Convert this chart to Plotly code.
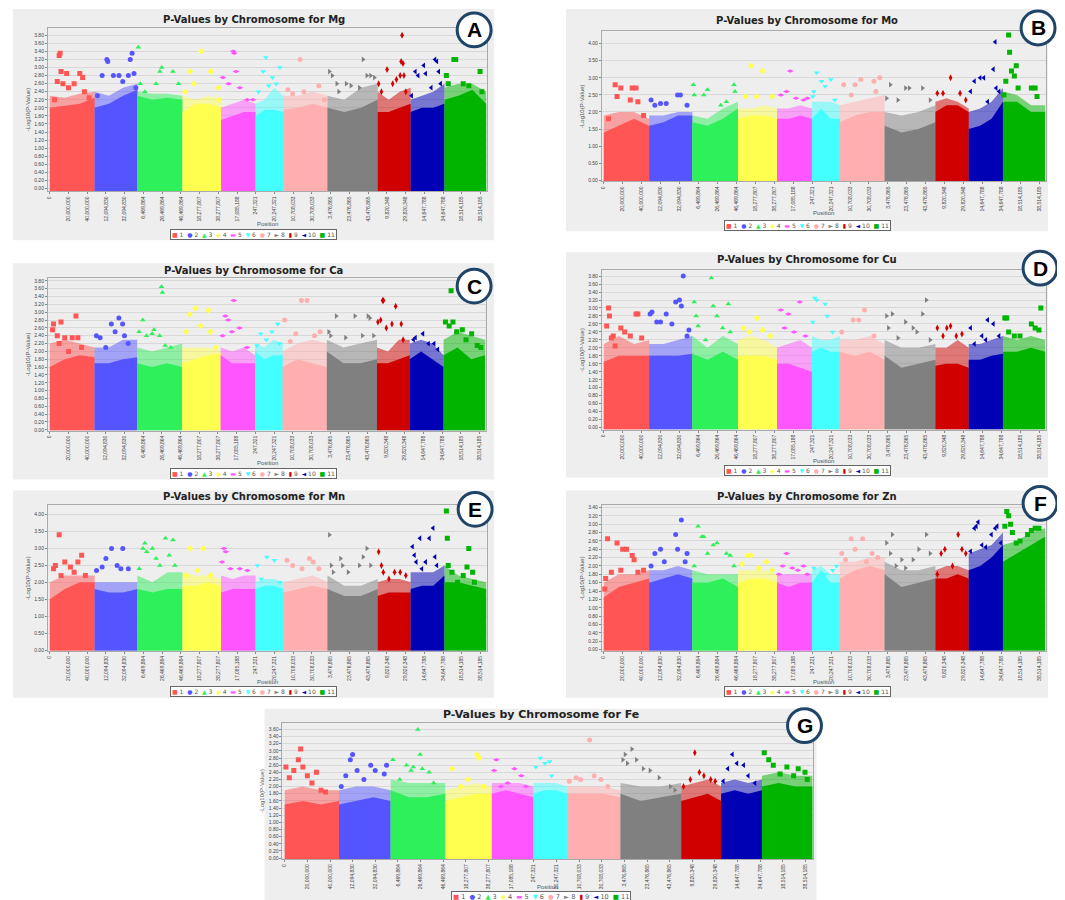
import plotly.graph_objects as go

W, H = 1065, 900

CHROMS = ["1", "2", "3", "4", "5", "6", "7", "8", "9", "10", "11"]
CHROM_LEN = [47905170, 45624966, 48192057, 41192619, 36837867, 29539288,
             47231168, 53656517, 35172560, 36133603, 44500000]
TICK_LABELS = ["0", "20,000,000", "40,000,000", "12,094,830", "32,094,830",
               "6,469,864", "26,469,864", "46,469,864", "18,277,807", "38,277,807",
               "17,085,188", "247,321", "20,247,321", "10,708,033", "30,708,033",
               "3,476,865", "23,476,865", "43,476,865", "9,820,348", "29,820,348",
               "14,647,788", "34,647,788", "18,514,185", "38,514,185"]
ELEMENTS = ["Mg", "Mo", "Ca", "Cu", "Mn", "Zn", "Fe"]
LETTERS = ["A", "B", "C", "D", "E", "F", "G"]

# solid block top (-log10 p) at evenly spaced spots along each chromosome
MG_BLOCK = [[2.0, 2.05, 2.1, 2.25], [2.0, 2.1, 2.3, 2.45], [2.3, 2.2, 2.25, 2.2], [1.9, 2.1, 2.1, 2.0],
            [1.7, 1.8, 1.9, 1.9], [1.8, 1.95, 1.95, 1.9], [1.95, 2.0, 2.1, 2.0], [2.0, 1.9, 2.0, 2.2],
            [1.9, 1.9, 2.0, 2.1], [1.9, 2.0, 2.0, 2.1], [2.2, 2.3, 2.45, 2.1]]
# top of the looser spray of points above the block
MG_SPRAY = [[2.3, 2.25, 2.35, 2.4], [2.4, 2.3, 2.5, 2.6], [2.4, 2.35, 2.35, 2.3], [2.3, 2.2, 2.3, 2.2],
            [2.0, 2.1, 2.2, 2.1], [2.1, 2.2, 2.5, 2.3], [2.3, 2.3, 2.4, 2.3], [2.3, 2.2, 2.5, 2.6],
            [2.4, 2.2, 2.4, 2.5], [2.2, 2.3, 2.4, 2.6], [2.5, 2.6, 2.6, 2.4]]
# scattered hits: (position in Mb within chromosome, -log10 p)
MG_PEAKS = [
    [(5, 2.2), (8, 2.65), (10, 3.3), (11, 3.35), (12, 2.9), (14, 2.6), (18, 2.85), (20, 2.5), (26, 2.6), (32, 2.85), (35, 2.75), (37, 2.4), (42, 2.25)],
    [(3, 2.3), (8, 2.8), (13, 3.2), (14, 3.15), (20, 2.8), (26, 2.8), (30, 2.65), (36, 2.8), (38, 3.2), (40, 3.35), (42, 2.85), (44, 2.5)],
    [(1, 3.5), (3, 2.6), (8, 2.4), (20, 2.6), (24, 2.9), (26, 3.0), (38, 2.9), (44, 2.6)],
    [(3, 2.4), (8, 2.9), (12, 2.6), (20, 3.4), (30, 2.9), (38, 2.5), (39, 2.2)],
    [(2, 2.75), (8, 2.6), (13, 3.4), (14, 3.35), (16, 2.9), (20, 2.5), (28, 2.2), (34, 2.2)],
    [(3, 2.4), (8, 2.9), (11, 3.25), (14, 2.55), (18, 2.75), (22, 2.6), (26, 3.0)],
    [(5, 2.45), (10, 2.35), (18, 3.2), (22, 2.4), (38, 2.55), (44, 2.2)],
    [(2, 2.9), (5, 2.8), (10, 2.6), (12, 2.4), (20, 2.6), (25, 2.55), (34, 2.5), (38, 3.2), (42, 2.8), (46, 2.8), (50, 2.75)],
    [(1, 2.6), (4, 2.4), (10, 2.95), (16, 2.6), (20, 2.7), (24, 2.8), (25, 3.15), (26, 3.8), (27, 3.1), (28, 2.8), (30, 2.4)],
    [(1, 2.3), (5, 2.9), (8, 2.8), (14, 3.05), (16, 2.85), (22, 2.5), (26, 3.2), (28, 3.15), (30, 2.9), (32, 2.6)],
    [(2, 2.8), (4, 2.6), (10, 3.2), (12, 3.2), (20, 2.6), (26, 2.55), (38, 2.9), (40, 2.4)],
]

MO_BLOCK = [[1.4, 1.6, 1.8, 1.6], [1.6, 1.7, 1.9, 1.9], [1.7, 1.6, 1.8, 2.1], [1.8, 1.9, 1.9, 1.8],
            [1.8, 1.8, 1.9, 1.8], [1.8, 2.1, 1.8, 1.8], [1.7, 1.9, 2.0, 2.0], [1.6, 1.4, 1.5, 1.7],
            [2.0, 2.2, 2.2, 2.0], [1.5, 1.6, 1.8, 2.3], [2.3, 2.3, 2.0, 2.0]]
MO_SPRAY = [[1.9, 2.0, 2.0, 1.8], [1.9, 1.9, 2.0, 2.0], [1.9, 1.8, 2.1, 2.3], [2.1, 2.1, 2.2, 2.1],
            [2.1, 2.1, 2.2, 2.1], [2.3, 2.3, 2.3, 2.2], [2.2, 2.3, 2.4, 2.5], [2.0, 1.9, 2.0, 2.2],
            [2.3, 2.4, 2.3, 2.1], [2.0, 2.1, 2.3, 2.7], [2.6, 2.5, 2.2, 2.2]]
MO_PEAKS = [
    [(5, 1.8), (12, 2.8), (14, 2.45), (18, 2.7), (28, 2.35), (30, 2.7), (34, 2.7), (36, 2.3), (42, 1.9)],
    [(2, 2.35), (6, 2.2), (12, 2.25), (18, 2.25), (30, 2.5), (33, 2.5), (40, 2.2)],
    [(1, 2.8), (2, 2.5), (12, 2.5), (16, 2.65), (30, 2.2), (36, 2.3), (44, 2.8), (45, 2.6)],
    [(8, 2.45), (14, 3.35), (20, 2.45), (26, 3.2), (36, 2.45)],
    [(4, 2.5), (10, 2.6), (14, 3.2), (20, 2.4), (28, 2.35), (32, 2.4)],
    [(1, 2.45), (2, 2.6), (5, 3.15), (10, 2.9), (14, 2.75), (20, 2.95), (24, 2.35)],
    [(4, 2.8), (12, 2.5), (16, 2.8), (22, 2.95), (36, 2.9), (38, 2.6), (42, 3.0)],
    [(2, 2.4), (6, 2.8), (14, 2.35), (22, 2.7), (26, 2.7), (40, 2.7), (48, 2.35)],
    [(2, 2.55), (8, 2.55), (16, 3.0), (26, 2.55), (32, 2.35)],
    [(2, 2.6), (6, 2.9), (12, 3.0), (16, 3.0), (20, 2.3), (26, 3.25), (28, 4.05), (29, 2.7), (32, 2.6)],
    [(1, 2.5), (3, 2.9), (6, 4.25), (7, 3.75), (9, 3.2), (12, 3.05), (14, 3.35), (16, 2.7), (30, 2.7), (34, 2.7), (36, 2.45)],
]

CA_BLOCK = [[1.6, 1.8, 1.9, 1.85], [1.7, 1.7, 1.8, 1.85], [1.7, 1.6, 1.7, 1.6], [1.7, 1.8, 1.9, 1.95],
            [1.9, 1.7, 1.7, 1.7], [2.0, 1.8, 1.9, 1.9], [1.6, 1.8, 1.7, 1.6], [2.0, 1.7, 1.7, 1.8],
            [1.7, 1.7, 1.8, 1.9], [1.8, 2.0, 1.8, 1.6], [1.9, 2.1, 1.8, 1.9]]
CA_SPRAY = [[2.2, 2.3, 2.2, 2.1], [2.1, 2.1, 2.3, 2.3], [2.1, 2.0, 2.1, 2.2], [2.1, 2.1, 2.1, 2.0],
            [2.1, 2.0, 2.1, 1.9], [2.2, 2.1, 2.3, 2.2], [2.0, 2.2, 2.3, 2.2], [2.3, 2.1, 2.2, 2.3],
            [2.1, 2.0, 2.3, 2.3], [2.2, 2.3, 2.2, 1.9], [2.3, 2.5, 2.4, 2.3]]
CA_PEAKS = [
    [(3, 2.55), (4, 2.7), (8, 2.4), (10, 2.2), (12, 2.75), (16, 2.35), (20, 2.0), (24, 2.35), (28, 2.9), (30, 2.35), (34, 2.1)],
    [(2, 2.4), (6, 2.35), (12, 2.1), (18, 2.7), (22, 2.5), (26, 2.85), (30, 2.7), (32, 2.4), (36, 2.2)],
    [(2, 2.5), (6, 2.8), (10, 2.4), (16, 2.45), (18, 2.55), (24, 2.4), (26, 3.65), (27, 3.5), (30, 2.15), (36, 2.1)],
    [(4, 2.5), (8, 2.95), (14, 3.1), (20, 2.65), (28, 3.05), (30, 2.5), (36, 2.1)],
    [(2, 2.4), (5, 2.9), (8, 2.8), (12, 2.5), (14, 3.3), (20, 2.6), (28, 2.1)],
    [(2, 2.15), (6, 2.45), (12, 2.3), (18, 2.5), (24, 2.7), (26, 2.2)],
    [(2, 2.8), (8, 2.25), (14, 2.45), (20, 3.3), (26, 3.3), (34, 2.4), (40, 2.5)],
    [(2, 2.5), (4, 2.4), (10, 2.9), (20, 2.35), (30, 2.9), (38, 2.4), (44, 2.9), (46, 2.85), (50, 2.4)],
    [(1, 2.75), (4, 2.8), (6, 3.3), (7, 3.3), (10, 2.6), (16, 2.7), (20, 3.15), (26, 2.7), (28, 2.3)],
    [(4, 2.3), (6, 2.35), (14, 2.45), (20, 2.2), (26, 2.2), (30, 2.05)],
    [(2, 2.75), (6, 2.65), (8, 3.55), (10, 2.75), (14, 2.5), (20, 2.55), (24, 2.3), (30, 2.45), (36, 2.15), (40, 2.1)],
]

CU_BLOCK = [[1.65, 1.8, 1.8, 1.8], [1.8, 1.8, 1.8, 1.85], [1.85, 1.7, 1.9, 1.7], [1.8, 1.8, 1.8, 1.7],
            [1.6, 1.6, 1.5, 1.4], [1.9, 2.0, 1.9, 1.9], [1.9, 1.8, 1.9, 1.7], [1.8, 1.5, 1.6, 1.7],
            [1.55, 1.6, 1.6, 1.5], [1.7, 1.7, 1.8, 1.85], [1.9, 1.9, 2.0, 1.9]]
CU_SPRAY = [[2.1, 2.3, 2.1, 2.2], [2.1, 2.1, 2.2, 2.3], [2.3, 2.0, 2.3, 2.1], [2.2, 2.3, 2.2, 2.0],
            [2.0, 2.1, 2.2, 2.0], [2.3, 2.2, 2.2, 2.3], [2.2, 2.2, 2.3, 2.1], [2.2, 2.0, 2.0, 2.1],
            [2.0, 2.0, 2.2, 2.0], [2.1, 2.1, 2.2, 2.3], [2.3, 2.2, 2.3, 2.2]]
CU_PEAKS = [
    [(3, 2.55), (5, 3.0), (6, 2.8), (8, 2.25), (10, 2.3), (12, 2.05), (18, 2.5), (22, 2.4), (28, 2.3), (34, 2.85), (36, 2.85), (40, 2.25)],
    [(1, 2.85), (3, 2.9), (8, 2.65), (12, 2.65), (18, 2.85), (24, 2.6), (28, 3.15), (32, 3.2), (34, 3.05), (36, 3.8), (40, 2.3), (42, 2.45)],
    [(2, 3.15), (4, 2.8), (6, 2.55), (14, 2.2), (20, 3.75), (22, 3.05), (26, 2.8), (32, 2.5), (38, 3.1), (40, 2.4)],
    [(6, 2.5), (12, 2.4), (20, 2.75), (26, 2.45), (34, 2.3)],
    [(4, 2.95), (8, 2.5), (12, 2.85), (18, 2.4), (24, 3.15), (30, 2.3)],
    [(1, 2.65), (3, 3.25), (5, 3.2), (14, 3.1), (16, 2.8), (22, 2.4)],
    [(2, 2.4), (14, 2.7), (20, 2.7), (26, 2.95), (36, 2.3)],
    [(2, 2.8), (4, 2.5), (8, 2.85), (14, 2.25), (22, 2.65), (30, 2.5), (34, 2.4), (40, 2.85), (44, 3.2), (48, 2.2)],
    [(2, 2.5), (8, 2.3), (12, 2.5), (16, 2.55), (22, 2.3), (28, 2.35)],
    [(2, 2.5), (6, 2.1), (14, 2.3), (18, 2.2), (20, 2.7), (26, 2.6), (32, 2.3)],
    [(2, 2.75), (4, 2.75), (6, 2.4), (12, 2.3), (18, 2.3), (30, 2.6), (34, 2.5), (38, 2.45), (40, 3.0)],
]

MN_BLOCK = [[1.5, 1.8, 2.0, 2.0], [1.8, 1.7, 1.7, 1.8], [1.8, 1.7, 1.8, 1.8], [1.9, 1.9, 2.0, 1.9],
            [1.7, 1.8, 1.8, 1.8], [1.8, 1.9, 1.9, 1.8], [1.7, 1.8, 1.9, 1.8], [1.8, 1.6, 1.6, 1.8],
            [1.6, 1.7, 1.7, 1.7], [1.8, 1.9, 1.9, 2.2], [2.0, 2.0, 1.9, 1.8]]
MN_SPRAY = [[2.0, 2.2, 2.2, 2.2], [2.0, 2.0, 2.0, 2.0], [2.2, 2.0, 2.3, 2.3], [2.3, 2.2, 2.2, 2.1],
            [2.2, 2.1, 2.2, 2.2], [2.0, 2.1, 2.1, 2.0], [2.0, 2.1, 2.2, 2.0], [2.2, 1.9, 1.9, 2.1],
            [2.0, 2.1, 2.1, 2.0], [2.3, 2.3, 2.3, 2.5], [2.5, 2.2, 2.1, 2.0]]
MN_PEAKS = [
    [(4, 2.4), (6, 2.5), (10, 3.4), (12, 2.2), (16, 2.6), (22, 2.45), (26, 2.3), (30, 2.6), (34, 2.8), (38, 2.2)],
    [(2, 2.35), (8, 2.45), (12, 2.7), (18, 3.0), (24, 2.5), (28, 2.4), (30, 3.0), (36, 2.4)],
    [(2, 2.4), (6, 3.0), (8, 3.15), (10, 2.9), (16, 3.0), (20, 2.7), (24, 2.5), (30, 3.3), (34, 2.8), (38, 3.25), (40, 2.5)],
    [(4, 2.2), (8, 3.0), (16, 2.35), (22, 3.0), (30, 2.2)],
    [(1, 2.6), (3, 3.0), (5, 2.9), (10, 2.4), (20, 2.4), (28, 2.35)],
    [(2, 2.5), (6, 2.1), (12, 2.75), (20, 2.65), (26, 2.0)],
    [(4, 2.65), (10, 2.5), (20, 2.4), (28, 2.7), (32, 2.6), (38, 2.4)],
    [(2, 3.4), (4, 2.5), (6, 2.3), (14, 2.7), (16, 2.5), (22, 2.3), (34, 2.5), (38, 2.75), (42, 3.0), (46, 2.5)],
    [(1, 2.9), (4, 2.5), (6, 2.3), (12, 2.1), (18, 2.3), (24, 2.3), (30, 2.2)],
    [(2, 3.05), (4, 2.8), (6, 2.6), (10, 3.3), (12, 2.4), (16, 2.6), (20, 3.3), (24, 3.6), (26, 2.75), (28, 2.5)],
    [(2, 4.1), (3, 3.3), (4, 2.5), (8, 2.3), (14, 2.0), (20, 2.2), (24, 2.45), (26, 3.0), (30, 2.3), (32, 2.0)],
]

ZN_BLOCK = [[1.25, 1.5, 1.6, 1.7], [1.6, 1.7, 1.8, 1.7], [1.6, 1.6, 1.7, 1.5], [1.6, 1.7, 1.7, 1.6],
            [1.6, 1.5, 1.6, 1.6], [1.6, 1.9, 1.6, 1.6], [1.7, 1.9, 2.0, 1.9], [1.8, 1.5, 1.6, 1.7],
            [1.7, 1.7, 1.8, 1.7], [1.9, 2.0, 2.2, 2.5], [2.1, 2.3, 2.5, 2.7]]
ZN_SPRAY = [[1.6, 1.8, 1.8, 1.9], [1.9, 1.9, 2.0, 1.9], [1.9, 1.8, 1.8, 1.8], [1.9, 1.9, 1.9, 1.8],
            [1.8, 1.8, 1.8, 1.8], [1.9, 2.0, 1.8, 1.8], [2.1, 2.1, 2.2, 2.2], [2.1, 1.9, 1.9, 2.0],
            [1.9, 2.0, 2.0, 1.9], [2.3, 2.4, 2.5, 2.8], [2.5, 2.6, 2.8, 2.9]]
ZN_PEAKS = [
    [(1, 1.45), (2, 1.7), (4, 2.65), (8, 1.85), (14, 2.55), (18, 1.9), (20, 2.4), (24, 2.4), (30, 2.25), (32, 2.15), (36, 1.85), (42, 1.9)],
    [(2, 2.0), (6, 2.3), (12, 2.4), (16, 2.1), (28, 2.75), (30, 2.4), (34, 3.1), (38, 2.1), (40, 2.3)],
    [(2, 2.0), (6, 2.95), (10, 2.7), (12, 2.7), (16, 2.3), (22, 2.5), (26, 2.55), (36, 2.3), (40, 2.25), (44, 2.0)],
    [(4, 2.05), (10, 2.25), (14, 2.25), (22, 1.95), (30, 2.1), (36, 1.9)],
    [(2, 1.8), (6, 2.0), (10, 2.3), (16, 1.95), (22, 1.9), (28, 2.0), (32, 1.8)],
    [(2, 1.95), (8, 1.75), (14, 1.8), (22, 1.9), (26, 2.0)],
    [(2, 2.3), (6, 2.15), (12, 2.65), (16, 2.4), (24, 2.65), (28, 2.1), (34, 2.3), (40, 2.2)],
    [(2, 2.55), (6, 2.3), (8, 2.75), (12, 2.0), (18, 2.15), (22, 1.95), (30, 2.15), (36, 2.4), (44, 2.75), (48, 2.3)],
    [(2, 1.8), (6, 2.3), (10, 2.4), (18, 2.0), (24, 2.75), (28, 2.4), (32, 2.3)],
    [(2, 2.35), (6, 2.9), (8, 2.95), (10, 3.05), (14, 2.5), (18, 2.45), (24, 2.75), (28, 2.9), (30, 2.95), (34, 2.55)],
    [(2, 2.95), (4, 3.3), (6, 3.2), (8, 3.0), (10, 2.8), (14, 2.55), (18, 2.6), (26, 2.75), (30, 2.85), (34, 2.9), (38, 2.9), (40, 2.5)],
]

FE_BLOCK = [[1.5, 1.6, 1.5, 1.6], [1.5, 1.6, 1.7, 1.6], [1.9, 1.7, 1.7, 1.8], [1.6, 1.7, 1.8, 1.8],
            [1.8, 1.9, 1.8, 1.7], [1.8, 1.9, 1.9, 1.8], [1.8, 1.8, 1.8, 1.7], [1.8, 1.6, 1.7, 1.8],
            [1.6, 1.7, 1.8, 1.6], [1.8, 1.9, 1.8, 1.9], [2.0, 2.1, 2.0, 2.0]]
FE_SPRAY = [[1.9, 2.0, 1.9, 1.9], [1.9, 2.0, 2.0, 1.9], [2.2, 2.1, 2.1, 2.1], [1.9, 2.0, 2.1, 2.0],
            [2.1, 2.1, 2.1, 2.0], [2.1, 2.1, 2.1, 2.0], [2.0, 2.0, 2.0, 1.9], [2.1, 2.0, 2.0, 2.1],
            [2.0, 2.1, 2.2, 2.0], [2.1, 2.2, 2.1, 2.2], [2.3, 2.4, 2.3, 2.3]]
FE_PEAKS = [
    [(1, 2.55), (4, 2.25), (8, 2.45), (12, 2.75), (14, 3.05), (16, 2.55), (20, 2.3), (24, 2.1), (28, 2.4), (32, 1.9), (36, 1.85)],
    [(2, 2.0), (6, 2.3), (10, 2.75), (12, 2.9), (16, 2.45), (22, 2.2), (28, 2.6), (32, 2.45), (40, 2.35), (42, 2.6)],
    [(2, 2.75), (8, 2.2), (14, 2.6), (18, 2.45), (20, 2.55), (24, 3.6), (26, 2.9), (28, 2.5), (34, 2.4), (38, 2.1)],
    [(6, 2.5), (14, 2.0), (20, 2.2), (28, 2.9), (30, 2.8), (34, 2.0)],
    [(2, 2.45), (4, 2.75), (8, 2.0), (14, 2.1), (20, 2.5), (26, 2.3), (30, 2.0)],
    [(2, 2.55), (6, 2.8), (10, 2.65), (14, 2.7), (16, 2.3)],
    [(2, 2.15), (8, 2.25), (12, 2.2), (20, 3.3), (24, 2.3), (30, 2.2), (36, 2.0)],
    [(2, 2.75), (4, 2.9), (6, 2.65), (10, 3.05), (14, 2.75), (20, 2.5), (26, 2.45), (34, 2.25), (44, 2.0), (48, 1.9)],
    [(2, 2.0), (8, 2.2), (12, 2.95), (16, 2.4), (20, 2.3), (26, 2.2), (30, 2.15)],
    [(2, 2.15), (6, 2.5), (10, 2.9), (14, 2.65), (20, 2.6), (24, 2.3), (30, 2.1)],
    [(2, 2.95), (6, 2.75), (10, 2.6), (16, 2.35), (22, 2.55), (28, 2.3), (32, 2.5), (38, 2.4), (40, 2.2)],
]

BLOCKS = [MG_BLOCK, MO_BLOCK, CA_BLOCK, CU_BLOCK, MN_BLOCK, ZN_BLOCK, FE_BLOCK]
SPRAYS = [MG_SPRAY, MO_SPRAY, CA_SPRAY, CU_SPRAY, MN_SPRAY, ZN_SPRAY, FE_SPRAY]
PEAKS = [MG_PEAKS, MO_PEAKS, CA_PEAKS, CU_PEAKS, MN_PEAKS, ZN_PEAKS, FE_PEAKS]

# styles
COLORS = ["#FF5555", "#5555FF", "#2EF05A", "#FFFF50", "#FF55FF", "#44FFFF",
          "#FFAFAF", "#808080", "#D00000", "#0000B4", "#00B400"]
SYMBOLS = ["square", "circle", "triangle-up", "diamond", "diamond-wide", "triangle-down",
           "circle", "triangle-right", "diamond-tall", "triangle-left", "square"]
GLYPHS = ["■", "●", "▲", "◆", "▬", "▼", "●", "►", "▮", "◄", "■"]

# panel geometry in pixels
PANELS = [
    dict(bg=(3, 485, 0, 232), plot=(38, 478, 19, 183), ty=11, py=216, ly=226, circ=(465, 21), yr=(-0.07, 3.98), dt=0.2, ts=10, lf=6),
    dict(bg=(557, 1040, 0, 223), plot=(593, 1038, 22, 173), ty=12, py=205, ly=217, circ=(1030, 19), yr=(-0.03, 4.37), dt=0.5, ts=10, lf=6),
    dict(bg=(3, 485, 255, 472), plot=(38, 477, 270, 423), ty=262, py=456, ly=466, circ=(465, 278), yr=(-0.02, 3.87), dt=0.2, ts=10, lf=6),
    dict(bg=(557, 1040, 244, 470), plot=(593, 1038, 262, 422), ty=251, py=454, ly=463, circ=(1032, 260), yr=(-0.05, 3.95), dt=0.2, ts=10, lf=6),
    dict(bg=(3, 485, 483, 691), plot=(38, 478, 498, 644), ty=489, py=675, ly=685, circ=(466, 502), yr=(-0.02, 4.27), dt=0.5, ts=10, lf=6),
    dict(bg=(557, 1040, 483, 691), plot=(593, 1038, 498, 644), ty=489, py=675, ly=685, circ=(1032, 496), yr=(-0.03, 3.45), dt=0.2, ts=10, lf=6),
    dict(bg=(255, 808, 702, 900), plot=(273, 805, 716, 853), ty=708, py=881, ly=891, circ=(796, 719), yr=(-0.03, 3.79), dt=0.2, ts=11, lf=6.5),
]


def rgba(hexcol, a):
    h = hexcol.lstrip("#")
    return f"rgba({int(h[0:2], 16)},{int(h[2:4], 16)},{int(h[4:6], 16)},{a})"


starts = []
acc = 0
for L in CHROM_LEN:
    starts.append(acc)
    acc += L
x_end = acc

px = lambda v: v / W
py = lambda v: 1 - v / H

fig = go.Figure()
shapes = []
annotations = []

legend_text = "  ".join(
    f"<span style='color:{COLORS[i]}'>{GLYPHS[i]}</span> {CHROMS[i]}" for i in range(len(CHROMS))
)

for k, (elem, letter, panel) in enumerate(zip(ELEMENTS, LETTERS, PANELS), start=1):
    bx0, bx1, by0, by1 = panel["bg"]
    x0, x1, y0, y1 = panel["plot"]
    ylo, yhi = panel["yr"]
    xa, ya = f"x{k}", f"y{k}"

    shapes.append(dict(type="rect", xref="paper", yref="paper", layer="below",
                       x0=px(bx0), x1=px(bx1), y0=py(by1), y1=py(by0),
                       fillcolor="#EEEEEE", line=dict(width=0)))

    for c in range(len(CHROMS)):
        for tops, alpha in ((SPRAYS[k - 1][c], 0.5), (BLOCKS[k - 1][c], 1.0)):
            n = len(tops)
            xs = [starts[c] + CHROM_LEN[c] * i / (n - 1) for i in range(n)]
            fig.add_trace(go.Scatter(
                x=xs + [xs[-1], xs[0]], y=tops + [ylo, ylo], fill="toself", mode="lines",
                line=dict(width=0, color=COLORS[c]), fillcolor=rgba(COLORS[c], alpha),
                xaxis=xa, yaxis=ya, showlegend=False, hoverinfo="skip"))
        pk = PEAKS[k - 1][c]
        fig.add_trace(go.Scatter(
            x=[starts[c] + p * 1e6 for p, _ in pk], y=[v for _, v in pk], mode="markers",
            marker=dict(symbol=SYMBOLS[c], size=5, color=COLORS[c], line=dict(width=0)),
            xaxis=xa, yaxis=ya, showlegend=False, name=CHROMS[c]))

    sfx = "" if k == 1 else str(k)
    fig.layout["xaxis" + sfx] = dict(
        domain=[px(x0), px(x1)], anchor=ya, range=[-2e6, x_end + 1e6],
        tickvals=[i * 20000000 for i in range(len(TICK_LABELS))], ticktext=TICK_LABELS,
        tickangle=-90, tickfont=dict(size=5, color="#444444"), ticks="outside", ticklen=2,
        tickcolor="#888888", showgrid=False, zeroline=False,
        showline=True, mirror=True, linecolor="#AAAAAA", linewidth=1)
    fig.layout["yaxis" + sfx] = dict(
        domain=[py(y1), py(y0)], anchor=xa, range=[ylo, yhi], dtick=panel["dt"], tick0=0,
        tickformat=".2f", tickfont=dict(size=5, color="#444444"), ticks="outside", ticklen=2,
        tickcolor="#888888", showgrid=True, gridcolor="#D8D8D8", gridwidth=1, zeroline=False,
        showline=True, mirror=True, linecolor="#AAAAAA", linewidth=1,
        title=dict(text="-Log10(P-Value)", font=dict(size=6, color="#555555"), standoff=3))

    cx = (bx0 + bx1) / 2
    annotations.append(dict(xref="paper", yref="paper", x=px(cx), y=py(panel["ty"]),
                            text=f"<b>P-Values by Chromosome for {elem}</b>", showarrow=False,
                            font=dict(size=panel["ts"], color="#222222", family="DejaVu Sans"),
                            xanchor="center", yanchor="middle"))
    annotations.append(dict(xref="paper", yref="paper", x=px((x0 + x1) / 2), y=py(panel["py"]),
                            text="Position", showarrow=False,
                            font=dict(size=6, color="#555555"), xanchor="center", yanchor="middle"))
    annotations.append(dict(xref="paper", yref="paper", x=px(cx), y=py(panel["ly"]),
                            text=legend_text, showarrow=False, bgcolor="#FFFFFF",
                            bordercolor="#666666", borderwidth=1, borderpad=1,
                            font=dict(size=panel["lf"], color="#555555", family="DejaVu Sans"),
                            xanchor="center", yanchor="middle"))

    ccx, ccy = panel["circ"]
    r = 17
    shapes.append(dict(type="circle", xref="paper", yref="paper",
                       x0=px(ccx - r), x1=px(ccx + r), y0=py(ccy + r), y1=py(ccy - r),
                       fillcolor="#FFFFFF", line=dict(color="#1E4468", width=3)))
    annotations.append(dict(xref="paper", yref="paper", x=px(ccx), y=py(ccy),
                            text=f"<b>{letter}</b>", showarrow=False,
                            font=dict(size=21, color="#000000", family="Liberation Sans"),
                            xanchor="center", yanchor="middle"))

fig.update_layout(
    width=W, height=H, margin=dict(l=0, r=0, t=0, b=0),
    paper_bgcolor="#FFFFFF", plot_bgcolor="#FFFFFF",
    font=dict(family="Liberation Sans", color="#333333"),
    showlegend=False, shapes=shapes, annotations=annotations,
)

fig.write_html("out.html")
